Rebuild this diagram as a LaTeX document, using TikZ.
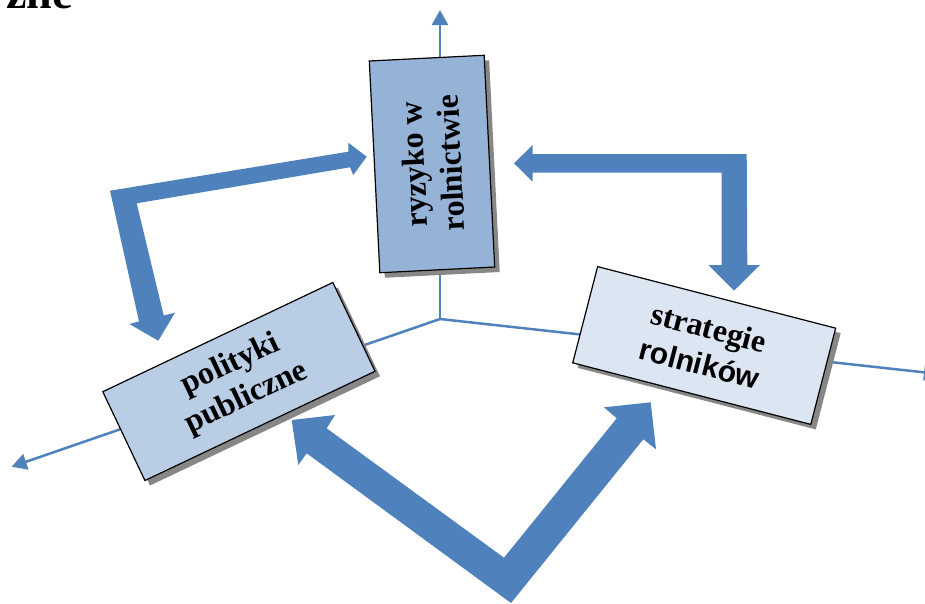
\documentclass[tikz,border=0pt]{standalone}
\usepackage{fontspec}
\setmainfont{Liberation Serif}
\newfontfamily\sansb{Liberation Sans}[BoldFont={Liberation Sans Bold}]
\usetikzlibrary{arrows.meta}
\definecolor{arrowblue}{RGB}{79,129,189}
\definecolor{boxA}{RGB}{149,179,215}
\definecolor{boxB}{RGB}{185,205,229}
\definecolor{boxC}{RGB}{220,230,242}
\definecolor{shadowgray}{RGB}{135,135,135}
\begin{document}
\begin{tikzpicture}[x=1pt,y=-1pt,
  axis/.style={draw=arrowblue,line width=2.5pt,-{Triangle[length=15pt,width=16pt]}},
  bigarrow/.style={fill=arrowblue,draw=none},
  box/.style={draw=black,line width=1.2pt,inner sep=0pt,align=center,
    font=\bfseries\fontsize{32}{37}\selectfont},
  shadowbox/.style={fill=shadowgray,draw=none,inner sep=0pt}]
\path[use as bounding box] (0,0) rectangle (925,603);
\clip (0,0) rectangle (925,603);
% heading fragment
\node[anchor=base east,inner sep=0pt,font=\bfseries\fontsize{46}{50}\selectfont] (head) at (73,8) {zne};
% axes
\coordinate (O) at (440,319);
\coordinate (up) at (440,10);
\coordinate (lft) at (11.7,466.7);
\coordinate (rgt) at (939,374);
\draw[axis] (O) -- (up);
\draw[axis] (O) -- (lft);
\draw[axis] (O) -- (rgt);
% big block arrows
\fill[bigarrow] (366.7,156.7) -- (348.3,142.7) -- (348.3,151.7) -- (110,190.7)
  -- (139.0,321.4) -- (129.3,324) -- (158.3,340.7) -- (175,312.7) -- (163.7,315.5)
  -- (136.7,203.3) -- (350,167.3) -- (353.3,175) -- cycle;
\fill[bigarrow] (514,163.3) -- (532.7,145) -- (532.7,154) -- (746.7,154)
  -- (747.3,265) -- (760,265) -- (734,290.7) -- (708.3,265) -- (721.7,265)
  -- (721.7,172.7) -- (532.7,172.7) -- (532.7,181.7) -- cycle;
\fill[bigarrow] (291.7,420) -- (335,415) -- (326.7,428.3) -- (504,557.7)
  -- (616.7,418.3) -- (604,407.3) -- (650.7,402.3) -- (656,449.3) -- (643.3,439.3)
  -- (511,603) -- (306.7,453.3) -- (298.3,465) -- cycle;
% boxes with shadows
\node[shadowbox,minimum width=212pt,minimum height=115pt,rotate=92.85] (riskshadow) at (437,169) {};
\node[box,fill=boxA,minimum width=212pt,minimum height=115pt,rotate=92.85] (risk) at (432,164) {ryzyko w\\rolnictwie};
\node[shadowbox,minimum width=254.7pt,minimum height=98.3pt,rotate=25.4] (polshadow) at (243.9,386.5) {};
\node[box,fill=boxB,minimum width=254.7pt,minimum height=98.3pt,rotate=25.4] (pol) at (238.9,381.5) {polityki\\publiczne};
\node[shadowbox,minimum width=245.9pt,minimum height=99.4pt,rotate=-14.5] (stratshadow) at (709.2,350.5) {};
\node[box,fill=boxC,minimum width=245.9pt,minimum height=99.4pt,rotate=-14.5] (strat) at (704.2,345.5) {strategie\\{\sansb\bfseries\fontsize{30}{37}\selectfont rolników}};
\end{tikzpicture}
\end{document}
